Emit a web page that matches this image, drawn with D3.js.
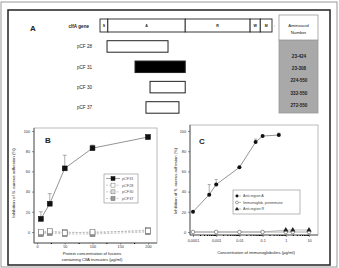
<!DOCTYPE html>
<html>
<head>
<meta charset="utf-8">
<script src="https://cdn.jsdelivr.net/npm/d3@7/dist/d3.min.js"></script>
<style>
  body { margin: 0; background: #fff; }
  text { font-family: "Liberation Sans", Arial, sans-serif; fill: #222; }
</style>
</head>
<body>
<div id="chart-area"></div>
<script>
// ---- panel A data (amino acid positions) ----
var geneSegments = ["S", "A", "R", "W", "M"];
var geneStart = [0, 50, 545, 960, 1025];
var geneEnd = [50, 545, 960, 1025, 1100];
var constructs = ["pCF 28", "pCF 31", "pCF 30", "pCF 37"];
var constructStart = [45, 224, 320, 294];
var constructEnd = [435, 545, 545, 505];
var aminoLabels = ["23-424", "23-308", "224-550", "332-550", "272-550"];

// ---- panel B data ----
var doseB = [7, 23, 50, 100, 200];
var seriesB = ["pCF31", "pCF28", "pCF30", "pCF37"];
var pcf31 = [13, 28, 63, 83, 94];
var pcf31Err = [20, 38, 76, 86, 96];
var pcf28 = [0, 1, -1, 0, 1];
var pcf30 = [-1, 0, 0, -1, 2];
var pcf37 = [-2, -1, -2, -2, 0];
var ticksB = [0, 50, 100, 150, 200];
var ticksBy = [0, 20, 40, 60, 80, 100];

// ---- panel C data ----
var doseC = [0.0001, 0.0005, 0.001, 0.01, 0.05, 0.1, 0.5];
var antiA = [20, 37, 47, 64, 89, 95, 96];
var antiAErr = [null, 47, 52, null, 92, null, 98];
var doseC2 = [0.0001, 0.001, 0.01, 0.1, 1, 2, 10];
var preimmune = [0, 0, 0, 0, 0, 0, 0];
var antiR = [0, 0, 0, 0, 2, 2, 2];
var seriesC = ["Anti-region A", "Immunoglob. preimmune", "Anti-region R"];
var ticksC = [0.0001, 0.001, 0.01, 0.1, 1, 10];
var ticksClabels = ["0,0001", "0,001", "0.01", "0.1", "1", "10"];

var width = 339, height = 268;

var svg = d3.select("#chart-area")
    .append("svg")
        .attr("width", width)
        .attr("height", height);

// scan frame + black border
svg.append("rect")
    .attr("x", 1).attr("y", 2).attr("width", 336).attr("height", 265)
    .attr("fill", "none").attr("stroke", "#999").attr("stroke-width", 1);
svg.append("rect")
    .attr("x", 8).attr("y", 10).attr("width", 322).attr("height", 255)
    .attr("fill", "none").attr("stroke", "#222").attr("stroke-width", 1.5);

/* ================= Panel A ================= */
var aa = d3.scaleLinear().domain([0, 1100]).range([100, 272]);
var rowY = d3.scalePoint().domain(constructs).range([46.5, 107.5]);

svg.append("text").attr("x", 30).attr("y", 31)
    .attr("font-size", "8px").attr("font-weight", "bold").text("A");

svg.append("text").attr("x", 89).attr("y", 27.5)
    .attr("font-size", "4.6px").attr("font-weight", "bold")
    .attr("text-anchor", "end").text("clfA gene");

geneSegments.forEach(function(s, i) {
    svg.append("rect")
        .attr("x", aa(geneStart[i])).attr("y", 19)
        .attr("width", aa(geneEnd[i]) - aa(geneStart[i])).attr("height", 13)
        .attr("fill", "#fff").attr("stroke", "#222").attr("stroke-width", 0.9);
    svg.append("text")
        .attr("x", (aa(geneStart[i]) + aa(geneEnd[i])) / 2).attr("y", 27)
        .attr("font-size", "3.6px").attr("font-weight", "bold")
        .attr("text-anchor", "middle").text(s);
});
svg.append("text").attr("x", aa(1100) + 2).attr("y", 27)
    .attr("font-size", "4px").attr("fill", "#888").text(":");

constructs.forEach(function(c, i) {
    svg.append("text")
        .attr("x", 92).attr("y", rowY(c) + 1.8)
        .attr("font-size", "4.6px").attr("text-anchor", "end").text(c);
    svg.append("rect")
        .attr("x", aa(constructStart[i])).attr("y", rowY(c) - 5.8)
        .attr("width", aa(constructEnd[i]) - aa(constructStart[i])).attr("height", 11.5)
        .attr("fill", i == 1 ? "#000" : "#fff")
        .attr("stroke", "#222").attr("stroke-width", 1);
});

// amino acid number table
svg.append("rect")
    .attr("x", 279).attr("y", 40).attr("width", 39).attr("height", 73)
    .attr("fill", "#a9a9a9").attr("stroke", "#999").attr("stroke-width", 0.8);
svg.append("rect")
    .attr("x", 279).attr("y", 15).attr("width", 39).attr("height", 25)
    .attr("fill", "#fff").attr("stroke", "#999").attr("stroke-width", 0.8);
svg.append("text").attr("x", 298.5).attr("y", 26.5)
    .attr("font-size", "4.4px").attr("text-anchor", "middle").text("Aminoacid");
svg.append("text").attr("x", 298.5).attr("y", 34)
    .attr("font-size", "4.4px").attr("text-anchor", "middle").text("Number");
var aaRow = d3.scalePoint().domain(aminoLabels).range([56, 105]);
aminoLabels.forEach(function(l) {
    svg.append("text").attr("x", 299).attr("y", aaRow(l) + 1.8)
        .attr("font-size", "4.6px").attr("font-weight", "bold")
        .attr("text-anchor", "middle").text(l);
});

/* ================= Panel B ================= */
var xB = d3.scaleLinear().domain([0, 200]).range([37, 148]);
var yB = d3.scaleLinear().domain([0, 100]).range([232, 131]);
var gB = svg.append("g");

gB.append("rect")
    .attr("x", 34).attr("y", 128).attr("width", 123).attr("height", 115)
    .attr("fill", "none").attr("stroke", "#aaa").attr("stroke-width", 0.8);
gB.append("line").attr("x1", 34).attr("x2", 34).attr("y1", 128).attr("y2", 243)
    .attr("stroke", "#444").attr("stroke-width", 0.8);
gB.append("line").attr("x1", 34).attr("x2", 157).attr("y1", 243).attr("y2", 243)
    .attr("stroke", "#444").attr("stroke-width", 0.8);

var leftB = gB.append("g").attr("transform", "translate(34,0)")
    .call(d3.axisLeft(yB).tickValues(ticksBy).tickSize(2).tickPadding(2));
var bottomB = gB.append("g").attr("transform", "translate(0,243)")
    .call(d3.axisBottom(xB).tickValues(ticksB).tickSize(1.5).tickPadding(1));
gB.append("g").attr("transform", "translate(0,243)")
    .call(d3.axisBottom(xB).tickValues([25, 75, 125, 175]).tickSize(1).tickFormat(""))
    .select(".domain").remove();
[leftB, bottomB].forEach(function(a) {
    a.select(".domain").remove();
    a.selectAll("text").attr("font-size", "3.8px").style("fill", "#333");
    a.selectAll("line").attr("stroke", "#444").attr("stroke-width", 0.6);
});

gB.append("text").attr("x", 45).attr("y", 143)
    .attr("font-size", "8px").attr("font-weight", "bold").text("B");

gB.append("text")
    .attr("transform", "translate(14.5,183) rotate(-90)")
    .attr("font-size", "4.4px").attr("text-anchor", "middle")
    .text("Inhibition of S. aureus adhesion (%)");
gB.append("text").attr("x", 92).attr("y", 254.5)
    .attr("font-size", "4.2px").attr("text-anchor", "middle")
    .text("Protein concentration of fusions");
gB.append("text").attr("x", 92).attr("y", 260.5)
    .attr("font-size", "4.2px").attr("text-anchor", "middle")
    .text("containing ClfA truncates (\u00b5g/ml)");

var lineB = d3.line().x(function(d) { return xB(d[0]); }).y(function(d) { return yB(d[1]); });
var bStyles = [
    {vals: pcf31, fill: "#111", stroke: "#111", line: "#666", dash: null},
    {vals: pcf28, fill: "#fff", stroke: "#777", line: "#aaa", dash: "2,1.5"},
    {vals: pcf30, fill: "#ddd", stroke: "#777", line: "#aaa", dash: "2,1.5"},
    {vals: pcf37, fill: "#999", stroke: "#666", line: "#aaa", dash: "2,1.5"}
];

// error bars for pCF31
doseB.forEach(function(d, i) {
    gB.append("line").attr("x1", xB(d)).attr("x2", xB(d))
        .attr("y1", yB(pcf31[i])).attr("y2", yB(pcf31Err[i]))
        .attr("stroke", "#777").attr("stroke-width", 0.6);
    gB.append("line").attr("x1", xB(d) - 2).attr("x2", xB(d) + 2)
        .attr("y1", yB(pcf31Err[i])).attr("y2", yB(pcf31Err[i]))
        .attr("stroke", "#777").attr("stroke-width", 0.6);
});

bStyles.slice().reverse().forEach(function(s) {
    var pts = doseB.map(function(d, i) { return [d, s.vals[i]]; });
    gB.append("path").datum(pts)
        .attr("d", lineB).attr("fill", "none")
        .attr("stroke", s.line).attr("stroke-width", 0.7)
        .attr("stroke-dasharray", s.dash);
    gB.selectAll(null).data(pts).enter().append("rect")
        .attr("x", function(d) { return xB(d[0]) - 2.4; })
        .attr("y", function(d) { return yB(d[1]) - 2.4; })
        .attr("width", 4.8).attr("height", 4.8)
        .attr("fill", s.fill).attr("stroke", s.stroke).attr("stroke-width", 0.6);
});

// legend B
var legB = gB.append("g");
legB.append("rect").attr("x", 104).attr("y", 174).attr("width", 34).attr("height", 29)
    .attr("fill", "#fff").attr("stroke", "#888").attr("stroke-width", 0.6);
var legBy = d3.scalePoint().domain(seriesB).range([178.5, 198.5]);
seriesB.forEach(function(name, i) {
    var s = bStyles[i];
    legB.append("line").attr("x1", 106).attr("x2", 120)
        .attr("y1", legBy(name)).attr("y2", legBy(name))
        .attr("stroke", s.line).attr("stroke-width", 0.6).attr("stroke-dasharray", s.dash);
    legB.append("rect").attr("x", 111).attr("y", legBy(name) - 2)
        .attr("width", 4).attr("height", 4)
        .attr("fill", s.fill).attr("stroke", s.stroke).attr("stroke-width", 0.5);
    legB.append("text").attr("x", 122).attr("y", legBy(name) + 1.4)
        .attr("font-size", "3.8px").style("fill", "#555").text(name);
});

/* ================= Panel C ================= */
var xC = d3.scaleLog().domain([0.0001, 10]).range([193, 309]);
var yC = d3.scaleLinear().domain([0, 100]).range([232, 131]);
var gC = svg.append("g");

gC.append("rect")
    .attr("x", 190).attr("y", 125).attr("width", 128).attr("height", 110)
    .attr("fill", "none").attr("stroke", "#aaa").attr("stroke-width", 0.8);
gC.append("line").attr("x1", 190).attr("x2", 190).attr("y1", 125).attr("y2", 235)
    .attr("stroke", "#444").attr("stroke-width", 0.8);
gC.append("line").attr("x1", 190).attr("x2", 318).attr("y1", 235).attr("y2", 235)
    .attr("stroke", "#444").attr("stroke-width", 0.8);

var leftC = gC.append("g").attr("transform", "translate(190,0)")
    .call(d3.axisLeft(yC).tickValues(ticksBy).tickSize(2).tickPadding(2));
var bottomC = gC.append("g").attr("transform", "translate(0,235)")
    .call(d3.axisBottom(xC).tickValues(ticksC).tickSize(2).tickPadding(2)
        .tickFormat(function(d, i) { return ticksClabels[i]; }));
var minorC = xC.ticks().filter(function(t) { return ticksC.indexOf(t) < 0; });
gC.append("g").attr("transform", "translate(0,235)")
    .call(d3.axisBottom(xC).tickValues(minorC).tickSize(1).tickFormat(""))
    .select(".domain").remove();
[leftC, bottomC].forEach(function(a) {
    a.select(".domain").remove();
    a.selectAll("text").attr("font-size", "3.8px").style("fill", "#333");
    a.selectAll("line").attr("stroke", "#444").attr("stroke-width", 0.6);
});

gC.append("text").attr("x", 199).attr("y", 144)
    .attr("font-size", "8px").attr("font-weight", "bold").text("C");

gC.append("text")
    .attr("transform", "translate(177,181) rotate(-90)")
    .attr("font-size", "4.2px").attr("text-anchor", "middle")
    .text("Inhibition of S. aureus adhesion (%)");
gC.append("text").attr("x", 256).attr("y", 254)
    .attr("font-size", "4.2px").attr("text-anchor", "middle")
    .text("Concentration of immunoglobulins (\u00b5g/ml)");

var lineC = d3.line().x(function(d) { return xC(d[0]); }).y(function(d) { return yC(d[1]); });

// preimmune and anti-region R along the baseline
var preimPts = doseC2.map(function(d, i) { return [d, preimmune[i]]; });
var antiRPts = doseC2.map(function(d, i) { return [d, antiR[i]]; });
gC.append("path").datum(preimPts).attr("d", lineC).attr("fill", "none")
    .attr("stroke", "#888").attr("stroke-width", 0.7);
gC.append("path").datum(antiRPts).attr("d", lineC).attr("fill", "none")
    .attr("stroke", "#999").attr("stroke-width", 0.6);
gC.selectAll(null).data(preimPts).enter().append("circle")
    .attr("cx", function(d) { return xC(d[0]); })
    .attr("cy", function(d) { return yC(d[1]); })
    .attr("r", 1.8).attr("fill", "#fff").attr("stroke", "#555").attr("stroke-width", 0.6);
var tri = d3.symbol().type(d3.symbolTriangle).size(12);
gC.selectAll(null).data(antiRPts.filter(function(d) { return d[1] > 0; })).enter().append("path")
    .attr("d", tri)
    .attr("transform", function(d) { return "translate(" + xC(d[0]) + "," + yC(d[1]) + ")"; })
    .attr("fill", "#222");

// anti-region A
doseC.forEach(function(d, i) {
    if (antiAErr[i] == null) return;
    gC.append("line").attr("x1", xC(d)).attr("x2", xC(d))
        .attr("y1", yC(antiA[i])).attr("y2", yC(antiAErr[i]))
        .attr("stroke", "#777").attr("stroke-width", 0.6);
    gC.append("line").attr("x1", xC(d) - 1.5).attr("x2", xC(d) + 1.5)
        .attr("y1", yC(antiAErr[i])).attr("y2", yC(antiAErr[i]))
        .attr("stroke", "#777").attr("stroke-width", 0.6);
});
var antiAPts = doseC.map(function(d, i) { return [d, antiA[i]]; });
gC.append("path").datum(antiAPts).attr("d", lineC).attr("fill", "none")
    .attr("stroke", "#666").attr("stroke-width", 0.7);
gC.selectAll(null).data(antiAPts).enter().append("circle")
    .attr("cx", function(d) { return xC(d[0]); })
    .attr("cy", function(d) { return yC(d[1]); })
    .attr("r", 2).attr("fill", "#111");

// legend C
var legC = gC.append("g");
legC.append("rect").attr("x", 233).attr("y", 190).attr("width", 67).attr("height", 24)
    .attr("fill", "#fff").attr("stroke", "#888").attr("stroke-width", 0.6);
var legCy = d3.scalePoint().domain(seriesC).range([196, 209]);
seriesC.forEach(function(name, i) {
    var y = legCy(name);
    legC.append("line").attr("x1", 235).attr("x2", 241).attr("y1", y).attr("y2", y)
        .attr("stroke", "#777").attr("stroke-width", 0.5);
    if (i == 0) {
        legC.append("circle").attr("cx", 237).attr("cy", y).attr("r", 1.4).attr("fill", "#111");
    } else if (i == 1) {
        legC.append("circle").attr("cx", 237).attr("cy", y).attr("r", 1.4)
            .attr("fill", "#fff").attr("stroke", "#555").attr("stroke-width", 0.5);
    } else {
        legC.append("path").attr("d", d3.symbol().type(d3.symbolTriangle).size(7))
            .attr("transform", "translate(237," + y + ")").attr("fill", "#222");
    }
    legC.append("text").attr("x", 243).attr("y", y + 1.3)
        .attr("font-size", "3.6px").style("fill", "#444").text(name);
});
</script>
</body>
</html>
